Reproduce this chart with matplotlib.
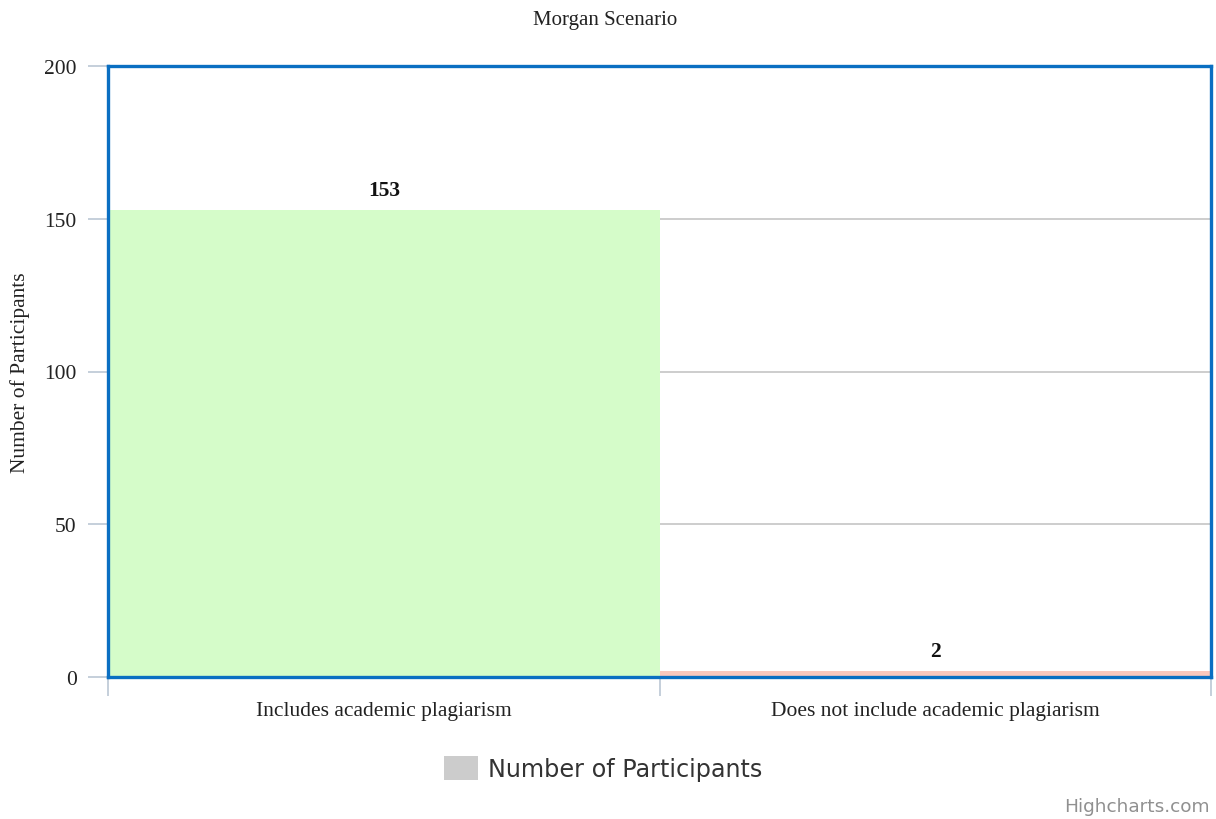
import matplotlib
matplotlib.use("Agg")
import matplotlib.pyplot as plt
from matplotlib.patches import Rectangle

categories = ["Includes academic plagiarism", "Does not include academic plagiarism"]
values = [153, 2]
bar_colors = ["#d5fcc9", "#fbc8bc"]
y_ticks = [0, 50, 100, 150, 200]
title = "Morgan Scenario"
y_label = "Number of Participants"
legend_label = "Number of Participants"

serif = ["Liberation Serif", "DejaVu Serif"]

fig = plt.figure(figsize=(12.16, 8.2), dpi=100)
ax = fig.add_axes([108 / 1216, 1 - 678 / 820, (1211 - 108) / 1216, (678 - 67) / 820])

x = list(range(len(categories)))
ax.bar(x, values, width=1.0, color=bar_colors, edgecolor="none", zorder=2)

ax.set_xlim(-0.5, len(categories) - 0.5)
ax.set_ylim(0, 200)

# grid lines
for t in y_ticks[1:-1]:
    ax.axhline(t, color="#c0c0c0", lw=1.1, zorder=1)

# value labels
for xi, v in zip(x, values):
    ax.annotate(str(v), (xi, v), xytext=(0, 7), textcoords="offset points",
                ha="center", va="bottom", fontsize=15.5, fontweight="bold",
                family=serif, color="#111111", zorder=4)

# y axis
ax.set_yticks(y_ticks)
ax.set_yticklabels([str(t) for t in y_ticks], family=serif, fontsize=15.5, color="#222222")
ax.tick_params(axis="y", length=14.5, width=1.3, color="#c0cbd8", pad=8)

# x axis: boundary ticks, labels centred under the bars
ax.set_xticks([i - 0.5 for i in range(len(categories) + 1)])
ax.set_xticklabels([])
ax.set_xticks(x, minor=True)
ax.set_xticklabels(categories, minor=True, family=serif, fontsize=15.5, color="#222222")
ax.tick_params(axis="x", which="major", length=14, width=1.3, color="#c0cbd8")
ax.tick_params(axis="x", which="minor", length=0, pad=17)

for s in ax.spines.values():
    s.set_color("#0a6fc2")
    s.set_linewidth(2.4)
    s.set_zorder(5)

ax.set_ylabel(y_label, family=serif, fontsize=15.5, color="#222222", labelpad=10)

fig.text(605 / 1216, 1 - 21 / 820, title, ha="center", va="center",
         family=serif, fontsize=15, color="#222222")

# legend
fig.patches.append(Rectangle((444 / 1216, 1 - 781 / 820), 34 / 1216, 24 / 820,
                             transform=fig.transFigure, facecolor="#cccccc",
                             edgecolor="none"))
fig.text(488 / 1216, 1 - 770 / 820, legend_label, ha="left", va="center",
         family="DejaVu Sans", fontsize=17.2, color="#333333")

fig.text(1210 / 1216, 1 - 807 / 820, "Highcharts.com", ha="right", va="center",
         family="DejaVu Sans", fontsize=13.3, color="#909090")

fig.savefig("out.png", dpi=100, facecolor="white")
